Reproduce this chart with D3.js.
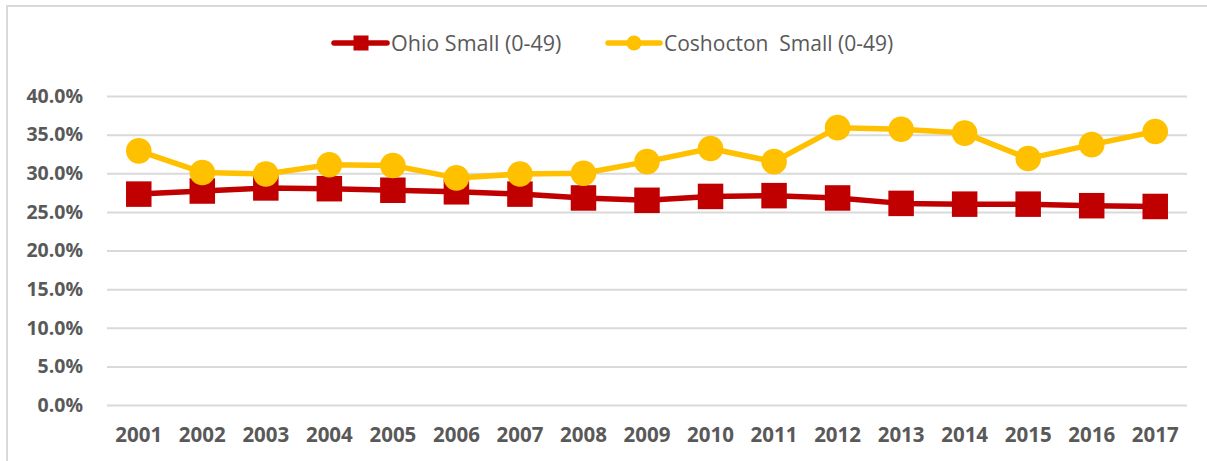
<!DOCTYPE html>
<html>
<head>
<meta charset="utf-8">
<script src="https://cdn.jsdelivr.net/npm/d3@7"></script>
<style>
  html, body { margin: 0; padding: 0; background: #ffffff; }
  svg { display: block; }
</style>
</head>
<body>
<svg id="chart" width="1207" height="461"></svg>
<script>
const years = ["2001","2002","2003","2004","2005","2006","2007","2008","2009","2010","2011","2012","2013","2014","2015","2016","2017"];
const ohioSmall = [27.3, 27.7, 28.1, 28.0, 27.8, 27.6, 27.3, 26.8, 26.5, 27.0, 27.1, 26.8, 26.1, 26.0, 26.0, 25.8, 25.7];
const coshoctonSmall = [32.9, 30.1, 29.9, 31.1, 31.0, 29.4, 29.9, 30.0, 31.5, 33.2, 31.5, 35.9, 35.7, 35.2, 31.9, 33.7, 35.4];
const yTicks = [0, 5, 10, 15, 20, 25, 30, 35, 40];
const seriesNames = ["Ohio Small (0-49)", "Coshocton  Small (0-49)"];

const svg = d3.select("#chart");
const W = 1207, H = 461;

const x = d3.scaleBand().domain(years).range([107, 1187]).padding(0);
const y = d3.scaleLinear().domain([0, 40]).range([405, 96]);

const textColor = "#595959";
const gridColor = "#d9d9d9";
const red = "#C00000";
const yellow = "#FFC000";

svg.append("rect").attr("width", W).attr("height", H).attr("fill", "#fff");

// chart border (partially visible)
svg.append("path")
  .attr("d", `M7,${H+5} L7,6 L${W+5},6`)
  .attr("fill", "none").attr("stroke", gridColor).attr("stroke-width", 2);

// gridlines + y labels via axis
const yAxis = d3.axisLeft(y).tickValues(yTicks)
  .tickSize(-(1187 - 107)).tickPadding(24)
  .tickFormat(d => d3.format(".1f")(d) + "%");
const gy = svg.append("g").attr("transform", "translate(107,0)").call(yAxis);
gy.select(".domain").remove();
gy.selectAll(".tick line").attr("stroke", gridColor).attr("stroke-width", 2);
gy.selectAll(".tick text")
  .attr("fill", textColor)
  .style("font-family", "'Open Sans', sans-serif")
  .style("font-weight", "700")
  .style("font-size", "19.5px");

// x axis labels
const xAxis = d3.axisBottom(x).tickSize(0).tickPadding(0);
const gx = svg.append("g").attr("transform", "translate(0,405)").call(xAxis);
gx.select(".domain").remove();
gx.selectAll(".tick text")
  .attr("y", 37).attr("dy", 0)
  .attr("fill", textColor)
  .style("font-family", "'Open Sans', sans-serif")
  .style("font-weight", "700")
  .style("font-size", "20.5px");

const cx = d => x(d) + x.bandwidth() / 2;
const line = d3.line().x(d => cx(d.year)).y(d => y(d.v));

const ohioData = years.map((yr, i) => ({year: yr, v: ohioSmall[i]}));
const coshData = years.map((yr, i) => ({year: yr, v: coshoctonSmall[i]}));

// Ohio series
svg.append("path").datum(ohioData)
  .attr("d", line).attr("fill", "none")
  .attr("stroke", red).attr("stroke-width", 5.5)
  .attr("stroke-linejoin", "round").attr("stroke-linecap", "round");
const sq = 25.5;
svg.append("g").selectAll("rect").data(ohioData).join("rect")
  .attr("x", d => cx(d.year) - sq/2).attr("y", d => y(d.v) - sq/2)
  .attr("width", sq).attr("height", sq).attr("fill", red);

// Coshocton series
svg.append("path").datum(coshData)
  .attr("d", line).attr("fill", "none")
  .attr("stroke", yellow).attr("stroke-width", 5.5)
  .attr("stroke-linejoin", "round").attr("stroke-linecap", "round");
svg.append("g").selectAll("circle").data(coshData).join("circle")
  .attr("cx", d => cx(d.year)).attr("cy", d => y(d.v))
  .attr("r", 12.8).attr("fill", yellow);

// legend
const legY = 43;
const leg = svg.append("g");
// Ohio
leg.append("line").attr("x1", 334).attr("x2", 387).attr("y1", legY).attr("y2", legY)
  .attr("stroke", red).attr("stroke-width", 5.5).attr("stroke-linecap", "round");
leg.append("rect").attr("x", 361 - 7.5).attr("y", legY - 7.5).attr("width", 15).attr("height", 15).attr("fill", red);
leg.append("text").attr("x", 391).attr("y", 51).text(seriesNames[0])
  .attr("fill", textColor).style("font-family", "'Open Sans', sans-serif").style("font-size", "21.5px")
  .style("font-weight", "500").style("white-space", "pre");
// Coshocton
leg.append("line").attr("x1", 608).attr("x2", 660).attr("y1", legY).attr("y2", legY)
  .attr("stroke", yellow).attr("stroke-width", 5.5).attr("stroke-linecap", "round");
leg.append("circle").attr("cx", 634).attr("cy", legY).attr("r", 7.5).attr("fill", yellow);
leg.append("text").attr("x", 664).attr("y", 51).text(seriesNames[1])
  .attr("fill", textColor).style("font-family", "'Open Sans', sans-serif").style("font-size", "21px")
  .style("font-weight", "500").style("white-space", "pre");
</script>
</body>
</html>
